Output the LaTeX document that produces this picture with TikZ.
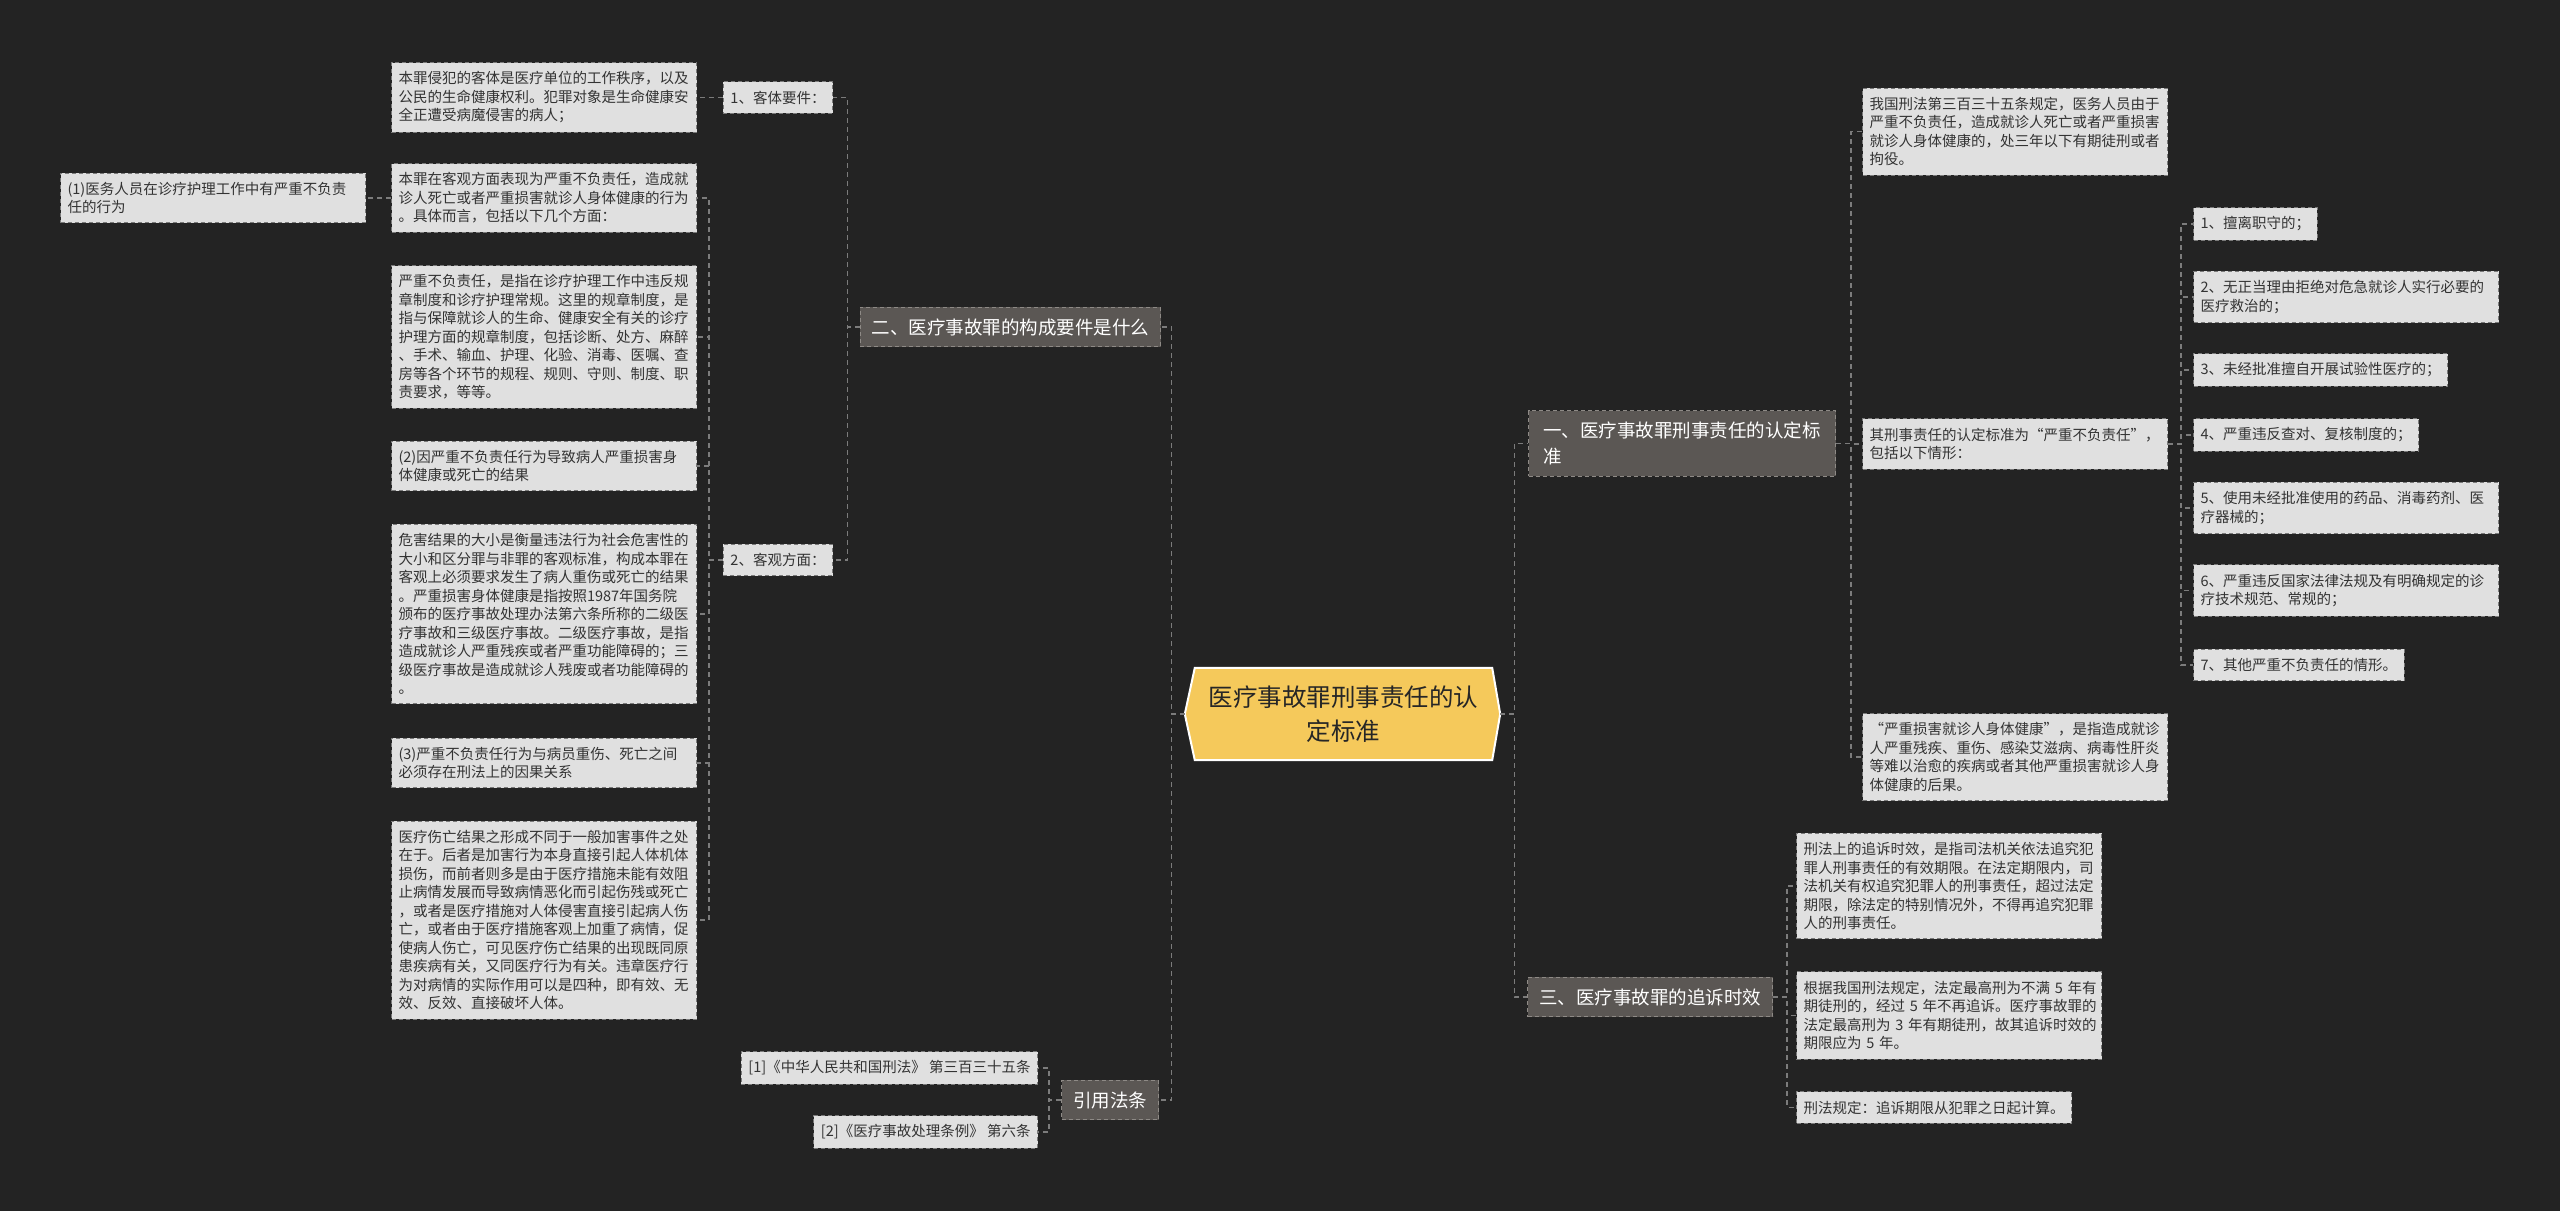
\documentclass[tikz,border=0pt]{standalone}
\usepackage{fontspec}
\setmainfont{Noto Sans CJK SC}
\usetikzlibrary{calc}
\definecolor{bgdark}{HTML}{232323}
\definecolor{leaffill}{HTML}{E0E0E0}
\definecolor{leafline}{HTML}{7A7A7A}
\definecolor{leaftext}{HTML}{333333}
\definecolor{branchfill}{HTML}{5B5754}
\definecolor{branchline}{HTML}{8E8A86}
\definecolor{hubfill}{HTML}{F5C95B}
\definecolor{linkgray}{HTML}{7C7C7C}
\pgfdeclarelayer{bg}
\pgfsetlayers{bg,main}
\newcommand{\leafsize}{\fontsize{14.5pt}{18.5pt}\selectfont}
\newcommand{\branchsize}{\fontsize{18.5pt}{26pt}\selectfont}
\newcommand{\hubsize}{\fontsize{24.5pt}{34pt}\selectfont}

\begin{document}
\begin{tikzpicture}[
    x=1pt,y=-1pt,
    leaf/.style={rectangle,draw=leafline,fill=leaffill,dash pattern=on 4pt off 3pt,line width=1pt,
      text=leaftext,font=\leafsize,align=left,inner xsep=7pt,inner ysep=9pt},
    para/.style={leaf,text width=291pt},
    branch/.style={rectangle,draw=branchline,fill=branchfill,dash pattern=on 4pt off 3pt,line width=1pt,
      text=white,font=\branchsize,align=left,inner xsep=11.5pt,inner ysep=11pt},
    hub/.style={rectangle,minimum width=297pt,minimum height=92pt,
      text=black!85,font=\hubsize,align=center},
    link/.style={draw=linkgray,dash pattern=on 5pt off 4pt,line width=1.3pt}
  ]
    \useasboundingbox (0,0) rectangle (2560,1211);

    \node[hub] (root) at (1343.5,714) {医疗事故罪刑事责任的认\\定标准};
    \coordinate (rootL) at ($(root.west)+(-10,0)$);
    \coordinate (rootR) at ($(root.east)+(8,0)$);

    \node[branch,anchor=east] (two) at (1161,327) {二、医疗事故罪的构成要件是什么};
    \node[leaf,anchor=east] (obj) at (833,97.5) {1、客体要件：};
    \node[para,anchor=east] (b1) at (697,97.5) {本罪侵犯的客体是医疗单位的工作秩序，以及\\公民的生命健康权利。犯罪对象是生命健康安\\全正遭受病魔侵害的病人；};
    \node[leaf,anchor=east] (subj) at (833,560) {2、客观方面：};
    \node[para,anchor=east] (b2) at (697,198) {本罪在客观方面表现为严重不负责任，造成就\\诊人死亡或者严重损害就诊人身体健康的行为\\。具体而言，包括以下几个方面：};
    \node[para,anchor=east] (act) at (366,198) {(1)医务人员在诊疗护理工作中有严重不负责\\任的行为};
    \node[para,anchor=east] (b3) at (697,337) {严重不负责任，是指在诊疗护理工作中违反规\\章制度和诊疗护理常规。这里的规章制度，是\\指与保障就诊人的生命、健康安全有关的诊疗\\护理方面的规章制度，包括诊断、处方、麻醉\\、手术、输血、护理、化验、消毒、医嘱、查\\房等各个环节的规程、规则、守则、制度、职\\责要求，等等。};
    \node[para,anchor=east] (b4) at (697,466) {(2)因严重不负责任行为导致病人严重损害身\\体健康或死亡的结果};
    \node[para,anchor=east] (b5) at (697,614) {危害结果的大小是衡量违法行为社会危害性的\\大小和区分罪与非罪的客观标准，构成本罪在\\客观上必须要求发生了病人重伤或死亡的结果\\。严重损害身体健康是指按照1987年国务院\\颁布的医疗事故处理办法第六条所称的二级医\\疗事故和三级医疗事故。二级医疗事故，是指\\造成就诊人严重残疾或者严重功能障碍的；三\\级医疗事故是造成就诊人残废或者功能障碍的\\。};
    \node[para,anchor=east] (b6) at (697,763) {(3)严重不负责任行为与病员重伤、死亡之间\\必须存在刑法上的因果关系};
    \node[para,anchor=east] (b7) at (697,920) {医疗伤亡结果之形成不同于一般加害事件之处\\在于。后者是加害行为本身直接引起人体机体\\损伤，而前者则多是由于医疗措施未能有效阻\\止病情发展而导致病情恶化而引起伤残或死亡\\，或者是医疗措施对人体侵害直接引起病人伤\\亡，或者由于医疗措施客观上加重了病情，促\\使病人伤亡，可见医疗伤亡结果的出现既同原\\患疾病有关，又同医疗行为有关。违章医疗行\\为对病情的实际作用可以是四种，即有效、无\\效、反效、直接破坏人体。};

    \node[branch,anchor=east] (cite) at (1159,1100) {引用法条};
    \node[leaf,anchor=east] (law1) at (1038,1068) {[1]《中华人民共和国刑法》 第三百三十五条};
    \node[leaf,anchor=east] (law2) at (1038,1132) {[2]《医疗事故处理条例》 第六条};

    \node[branch,anchor=west,minimum width=307pt] (one) at (1528,443.5) {一、医疗事故罪刑事责任的认定标\\准};
    \node[para,anchor=west] (r1) at (1862,131.5) {我国刑法第三百三十五条规定，医务人员由于\\严重不负责任，造成就诊人死亡或者严重损害\\就诊人身体健康的，处三年以下有期徒刑或者\\拘役。};
    \node[para,anchor=west] (r2) at (1862,444) {其刑事责任的认定标准为“严重不负责任”，\\包括以下情形：};
    \node[para,anchor=west] (r3) at (1862,757) {“严重损害就诊人身体健康”，是指造成就诊\\人严重残疾、重伤、感染艾滋病、病毒性肝炎\\等难以治愈的疾病或者其他严重损害就诊人身\\体健康的后果。};
    \node[leaf,anchor=west] (i1) at (2193,224) {1、擅离职守的；};
    \node[para,anchor=west] (i2) at (2193,297) {2、无正当理由拒绝对危急就诊人实行必要的\\医疗救治的；};
    \node[leaf,anchor=west] (i3) at (2193,370) {3、未经批准擅自开展试验性医疗的；};
    \node[leaf,anchor=west] (i4) at (2193,435) {4、严重违反查对、复核制度的；};
    \node[para,anchor=west] (i5) at (2193,508) {5、使用未经批准使用的药品、消毒药剂、医\\疗器械的；};
    \node[para,anchor=west] (i6) at (2193,590.5) {6、严重违反国家法律法规及有明确规定的诊\\疗技术规范、常规的；};
    \node[leaf,anchor=west] (i7) at (2193,665) {7、其他严重不负责任的情形。};

    \node[branch,anchor=west] (three) at (1527,997) {三、医疗事故罪的追诉时效};
    \node[para,anchor=west] (t1) at (1796,886) {刑法上的追诉时效，是指司法机关依法追究犯\\罪人刑事责任的有效期限。在法定期限内，司\\法机关有权追究犯罪人的刑事责任，超过法定\\期限，除法定的特别情况外，不得再追究犯罪\\人的刑事责任。};
    \node[para,anchor=west] (t2) at (1796,1015.5) {根据我国刑法规定，法定最高刑为不满~5~年有\\期徒刑的，经过~5~年不再追诉。医疗事故罪的\\法定最高刑为~3~年有期徒刑，故其追诉时效的\\期限应为~5~年。};
    \node[leaf,anchor=west] (t3) at (1796,1107.5) {刑法规定：追诉期限从犯罪之日起计算。};

    \begin{pgfonlayer}{bg}
      \fill[bgdark] (0,0) rectangle (2560,1211);
      \draw[white,line width=2pt,fill=hubfill] (root.north west) -- (root.north east) -- (rootR)
        -- (root.south east) -- (root.south west) -- (rootL) -- cycle;
    \end{pgfonlayer}

    \draw[link] (rootL) -- ++(-13,0) |- (two.east);
    \draw[link] (rootL) -- ++(-13,0) |- (cite.east);
    \draw[link] (rootR) -- ++(14,0) |- (one.west);
    \draw[link] (rootR) -- ++(14,0) |- (three.west);
    \draw[link] (two.west) -- ++(-12,0) |- (obj.east);
    \draw[link] (two.west) -- ++(-12,0) |- (subj.east);
    \draw[link] (obj.west) -- (b1.east);
    \foreach \c in {b2,b3,b4,b5,b6,b7}
      \draw[link] (subj.west) -- ++(-14,0) |- (\c.east);
    \draw[link] (b2.west) -- (act.east);
    \foreach \c in {law1,law2}
      \draw[link] (cite.west) -- ++(-12,0) |- (\c.east);
    \foreach \c in {r1,r2,r3}
      \draw[link] (one.east) -- ++(15,0) |- (\c.west);
    \foreach \c in {1,...,7}
      \draw[link] (r2.east) -- ++(13,0) |- (i\c.west);
    \foreach \c in {t1,t2,t3}
      \draw[link] (three.east) -- ++(14,0) |- (\c.west);
\end{tikzpicture}
\end{document}
